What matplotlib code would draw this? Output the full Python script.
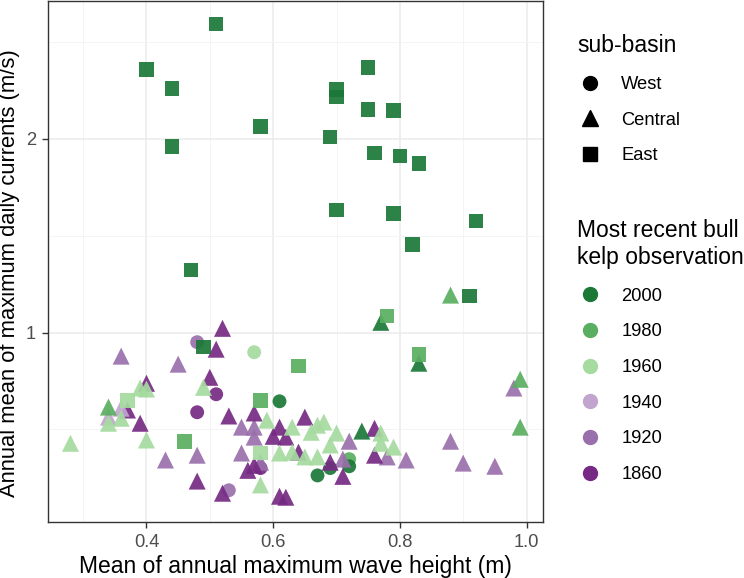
import matplotlib.pyplot as plt
from matplotlib.lines import Line2D

plt.rcParams['font.family'] = ['Liberation Sans', 'DejaVu Sans']

# year of most recent bull kelp observation -> colour (PRGn)
years = [2000, 1980, 1960, 1940, 1920, 1860]
year_colors = ['#1b7837', '#5aae61', '#a6dba0', '#c2a5cf', '#9970ab', '#762a83']
basins = ['West', 'Central', 'East']
basin_markers = {'West': 'o', 'Central': '^', 'East': 's'}
basin_sizes = {'West': 100, 'Central': 150, 'East': 110}

# East sub-basin (squares)
east_wave = [0.51, 0.40, 0.44, 0.75, 0.70, 0.70, 0.75, 0.79, 0.58, 0.69, 0.44,
             0.76, 0.80, 0.83, 0.70, 0.79, 0.92, 0.82, 0.47, 0.91, 0.49,
             0.78, 0.83, 0.64, 0.58, 0.46, 0.37, 0.58]
east_current = [3.01, 2.56, 2.39, 2.58, 2.385, 2.32, 2.22, 2.21, 2.09, 2.01, 1.945,
                1.90, 1.88, 1.83, 1.55, 1.53, 1.49, 1.37, 1.25, 1.14, 0.95,
                1.06, 0.925, 0.887, 0.785, 0.678, 0.785, 0.65]
east_year = [2000] * 21 + [1980] * 5 + [1960] * 2

# Central sub-basin (triangles)
central_wave = [0.36, 0.45, 0.43, 0.48, 0.55, 0.57, 0.57, 0.55, 0.58, 0.72, 0.71,
                0.78, 0.81, 0.98, 0.88, 0.90, 0.95,
                0.52, 0.51, 0.50, 0.40, 0.37, 0.39, 0.48, 0.52, 0.61, 0.62,
                0.53, 0.57, 0.61, 0.60, 0.62, 0.56, 0.57, 0.65, 0.76, 0.76,
                0.69, 0.71, 0.64,
                0.36, 0.34,
                0.49, 0.39, 0.40, 0.36, 0.34, 0.28, 0.40, 0.59, 0.63, 0.61,
                0.63, 0.58, 0.66, 0.67, 0.68, 0.70, 0.69, 0.77, 0.77, 0.79,
                0.65, 0.67,
                0.88, 0.99, 0.99, 0.34,
                0.77, 0.83, 0.74]
central_current = [0.919, 0.893, 0.634, 0.645, 0.713, 0.713, 0.688, 0.650, 0.629, 0.678, 0.636,
                   0.641, 0.634, 0.820, 0.678, 0.627, 0.620,
                   1.015, 0.942, 0.852, 0.834, 0.758, 0.723, 0.588, 0.563, 0.557, 0.555,
                   0.742, 0.750, 0.713, 0.690, 0.688, 0.611, 0.622, 0.739, 0.710, 0.645,
                   0.629, 0.598, 0.652,
                   0.763, 0.739,
                   0.822, 0.820, 0.817, 0.736, 0.723, 0.673, 0.681, 0.731, 0.713, 0.650,
                   0.652, 0.580, 0.700, 0.718, 0.726, 0.698, 0.669, 0.698, 0.673, 0.664,
                   0.641, 0.641,
                   1.143, 0.846, 0.713, 0.766,
                   1.037, 0.896, 0.703]
central_year = ([1920] * 17 + [1860] * 23 + [1940] * 2 + [1960] * 22
                + [1980] * 4 + [2000] * 3)

# West sub-basin (circles)
west_wave = [0.48, 0.53, 0.51, 0.48, 0.58, 0.57, 0.72, 0.61, 0.72, 0.67, 0.69]
west_current = [0.966, 0.569, 0.802, 0.752, 0.616, 0.932, 0.636, 0.782, 0.620, 0.600, 0.616]
west_year = [1920, 1920, 1860, 1860, 1860, 1960, 1980, 2000, 2000, 2000, 2000]

fig = plt.figure(figsize=(7.44, 5.78), dpi=100)
ax = fig.add_axes([48 / 744, 1 - 522 / 578, 495 / 744, 521 / 578])

cmap = dict(zip(years, year_colors))
for basin, wx, cy, yr in [('West', west_wave, west_current, west_year),
                          ('Central', central_wave, central_current, central_year),
                          ('East', east_wave, east_current, east_year)]:
    ax.scatter(wx, cy, c=[cmap[v] for v in yr], marker=basin_markers[basin],
               s=basin_sizes[basin], linewidths=0, alpha=0.92, zorder=3)

ax.set_yscale('log')
ax.set_xlim(0.2445, 1.026)
ax.set_ylim(0.508, 3.27)
ax.set_xticks([0.4, 0.6, 0.8, 1.0])
ax.set_xticklabels(['0.4', '0.6', '0.8', '1.0'])
ax.set_xticks([0.3, 0.5, 0.7, 0.9], minor=True)
ax.set_yticks([1, 2])
ax.set_yticklabels(['1', '2'])
ax.set_yticks([2 ** -0.5, 2 ** 0.5, 2 ** 1.5], minor=True)
ax.yaxis.set_minor_formatter(plt.NullFormatter())
ax.grid(True, which='major', color='#ebebeb', lw=1.1, zorder=0)
ax.grid(True, which='minor', color='#f3f3f3', lw=0.6, zorder=0)
ax.set_axisbelow(True)
ax.tick_params(which='major', length=4, width=1, color='#333333',
               labelsize=13.2, labelcolor='#4d4d4d', pad=4.5)
ax.tick_params(which='minor', length=0)
for sp in ax.spines.values():
    sp.set_color('#333333')
    sp.set_linewidth(1)

ax.set_xlabel('Mean of annual maximum wave height (m)', fontsize=16.5, labelpad=3)
ax.set_ylabel('Annual mean of maximum daily currents (m/s)', fontsize=15.8, labelpad=6)
ax.yaxis.set_label_coords(-0.057, 0.477)

shape_handles = [Line2D([], [], ls='none', marker=basin_markers[b], color='black',
                        markersize=11 if b == 'Central' else 10) for b in basins]
leg1 = ax.legend(shape_handles, basins, title='sub-basin', loc='upper left',
                 bbox_to_anchor=(570 / 744, 1 - 27 / 578), bbox_transform=fig.transFigure,
                 frameon=False, fontsize=13.2, title_fontsize=16.5, alignment='left',
                 labelspacing=1.02, handletextpad=1.0, handlelength=1.4, borderaxespad=0)
ax.add_artist(leg1)

color_handles = [Line2D([], [], ls='none', marker='o', color=c, markersize=10)
                 for c in year_colors]
ax.legend(color_handles, [str(y) for y in years],
          title='Most recent bull\nkelp observation', loc='upper left',
          bbox_to_anchor=(570 / 744, 1 - 212 / 578), bbox_transform=fig.transFigure,
          frameon=False, fontsize=13.2, title_fontsize=16.5, alignment='left',
          labelspacing=1.02, handletextpad=1.0, handlelength=1.4, borderaxespad=0)

plt.savefig('out.png', dpi=100)
